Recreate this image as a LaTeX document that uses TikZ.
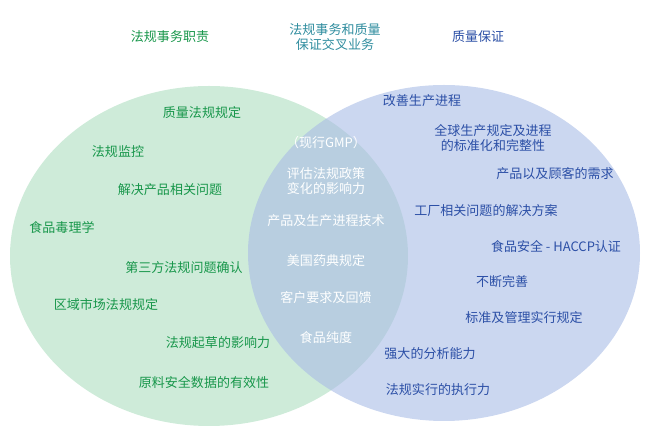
\documentclass[tikz,border=0pt]{standalone}
\usepackage{fontspec}
\setmainfont{Noto Sans CJK SC}
\usetikzlibrary{positioning}
\definecolor{lgreen}{HTML}{B9E3C9}
\definecolor{lblue}{HTML}{A9BCE6}
\definecolor{tgreen}{HTML}{17964A}
\definecolor{tblue}{HTML}{2B4FA6}
\definecolor{tmid}{HTML}{2E8C9E}
\begin{document}
\begin{tikzpicture}[
    x=0.02cm, y=-0.02cm,
    item/.style={font=\fontsize{7.4}{8.6}\selectfont, align=center, inner sep=1pt},
    lefttext/.style={item, text=tgreen},
    righttext/.style={item, text=tblue},
    midtext/.style={item, text=white}
]
\useasboundingbox (0,0) rectangle (650,428);

% ellipses
\fill[lgreen, opacity=0.7] (209,256) ellipse [x radius=199, y radius=170];
\fill[lblue, opacity=0.6] (444,253) ellipse [x radius=196, y radius=168];

% headers
\node[lefttext] (hleft) at (170,37) {法规事务职责};
\node[item, text=tmid] (hmid) at (335,37) {法规事务和质量\\保证交叉业务};
\node[righttext] (hright) at (478,37) {质量保证};

% left
\node[lefttext] (l1) at (202,113) {质量法规规定};
\node[lefttext] (l2) at (118,152) {法规监控};
\node[lefttext] (l3) at (170,190) {解决产品相关问题};
\node[lefttext] (l4) at (62,228) {食品毒理学};
\node[lefttext] (l5) at (184,268) {第三方法规问题确认};
\node[lefttext] (l6) at (106,305) {区域市场法规规定};
\node[lefttext] (l7) at (218,343) {法规起草的影响力};
\node[lefttext] (l8) at (204,383) {原料安全数据的有效性};

% overlap
\node[midtext] (m1) at (326,143) {（现行GMP）};
\node[midtext] (m2) at (326,181) {评估法规政策\\变化的影响力};
\node[midtext] (m3) at (326,221) {产品及生产进程技术};
\node[midtext] (m4) at (326,261) {美国药典规定};
\node[midtext] (m5) at (326,298) {客户要求及回馈};
\node[midtext] (m6) at (326,338) {食品纯度};

% right
\node[righttext] (r1) at (422,101) {改善生产进程};
\node[righttext] (r2) at (493,138) {全球生产规定及进程\\的标准化和完整性};
\node[righttext] (r3) at (555,174) {产品以及顾客的需求};
\node[righttext] (r4) at (486,211) {工厂相关问题的解决方案};
\node[righttext] (r5) at (556,246) {食品安全 - HACCP认证};
\node[righttext] (r6) at (502,282) {不断完善};
\node[righttext] (r7) at (524,318) {标准及管理实行规定};
\node[righttext] (r8) at (430,354) {强大的分析能力};
\node[righttext] (r9) at (438,390) {法规实行的执行力};
\end{tikzpicture}
\end{document}
